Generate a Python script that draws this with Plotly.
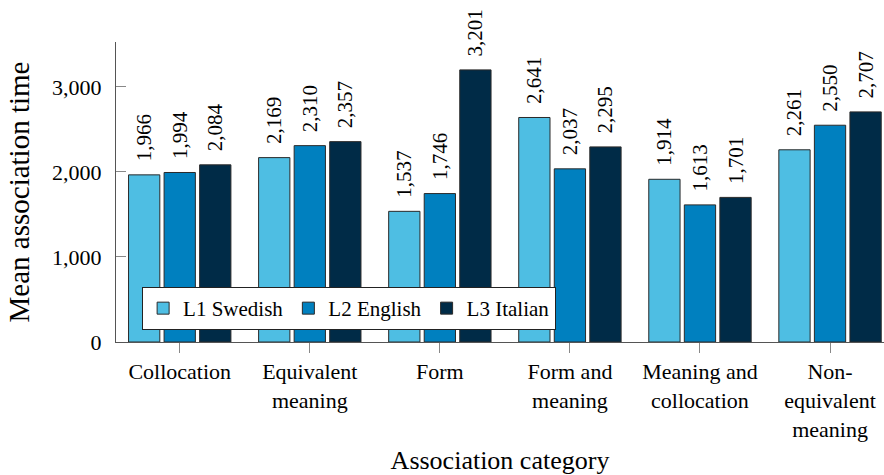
import plotly.graph_objects as go

categories = ["Collocation", "Equivalent<br>meaning", "Form", "Form and<br>meaning",
              "Meaning and<br>collocation", "Non-<br>equivalent<br>meaning"]
l1_swedish = [1966, 2169, 1537, 2641, 1914, 2261]
l2_english = [1994, 2310, 1746, 2037, 1613, 2550]
l3_italian = [2084, 2357, 3201, 2295, 1701, 2707]
series_names = ["L1 Swedish", "L2 English", "L3 Italian"]
series_colors = ["#4EBEE3", "#0080BF", "#002B47"]
y_ticks = [0, 1000, 2000, 3000]

FONT = "Liberation Serif"

fig = go.Figure()
for name, vals, col in zip(series_names, [l1_swedish, l2_english, l3_italian], series_colors):
    fig.add_trace(go.Bar(
        x=categories, y=vals, name=name,
        marker=dict(color=col, line=dict(color="#2a2a2a", width=1)),
        texttemplate="\u00a0\u00a0%{y:,}", textposition="outside", textangle=-90,
        textfont=dict(family=FONT, size=21, color="black"),
        constraintext="none", cliponaxis=False,
    ))

fig.update_layout(
    width=884, height=475,
    margin=dict(l=116, r=0, t=42, b=133),
    paper_bgcolor="white", plot_bgcolor="white",
    barmode="group", bargap=0.18, bargroupgap=0.12,
    font=dict(family=FONT, size=21, color="black"),
    showlegend=True,
    legend=dict(orientation="h", x=0.034, y=0.04, xanchor="left", yanchor="bottom",
                bgcolor="white", bordercolor="#222", borderwidth=1,
                font=dict(family=FONT, size=21), itemwidth=30, tracegroupgap=0),
    xaxis=dict(
        range=[-0.49, 5.415], showline=True, linecolor="#555", linewidth=1,
        ticks="outside", ticklen=10, tickcolor="#888",
        tickfont=dict(family=FONT, size=22),
        title=dict(text="Association category", font=dict(family=FONT, size=26), standoff=10),
        showgrid=False, zeroline=False,
    ),
    yaxis=dict(
        range=[0, 3529], showline=True, linecolor="#555", linewidth=1,
        ticks="inside", ticklen=10, tickcolor="#888",
        tickvals=y_ticks, tickformat=",", ticklabelstandoff=9,
        tickfont=dict(family=FONT, size=22),
        title=dict(text="Mean association time", font=dict(family=FONT, size=29), standoff=13),
        showgrid=False, zeroline=False,
    ),
)

fig.write_html("out.html", config={"displayModeBar": False},
               post_script="document.body.style.margin='0';document.body.style.padding='0';")
